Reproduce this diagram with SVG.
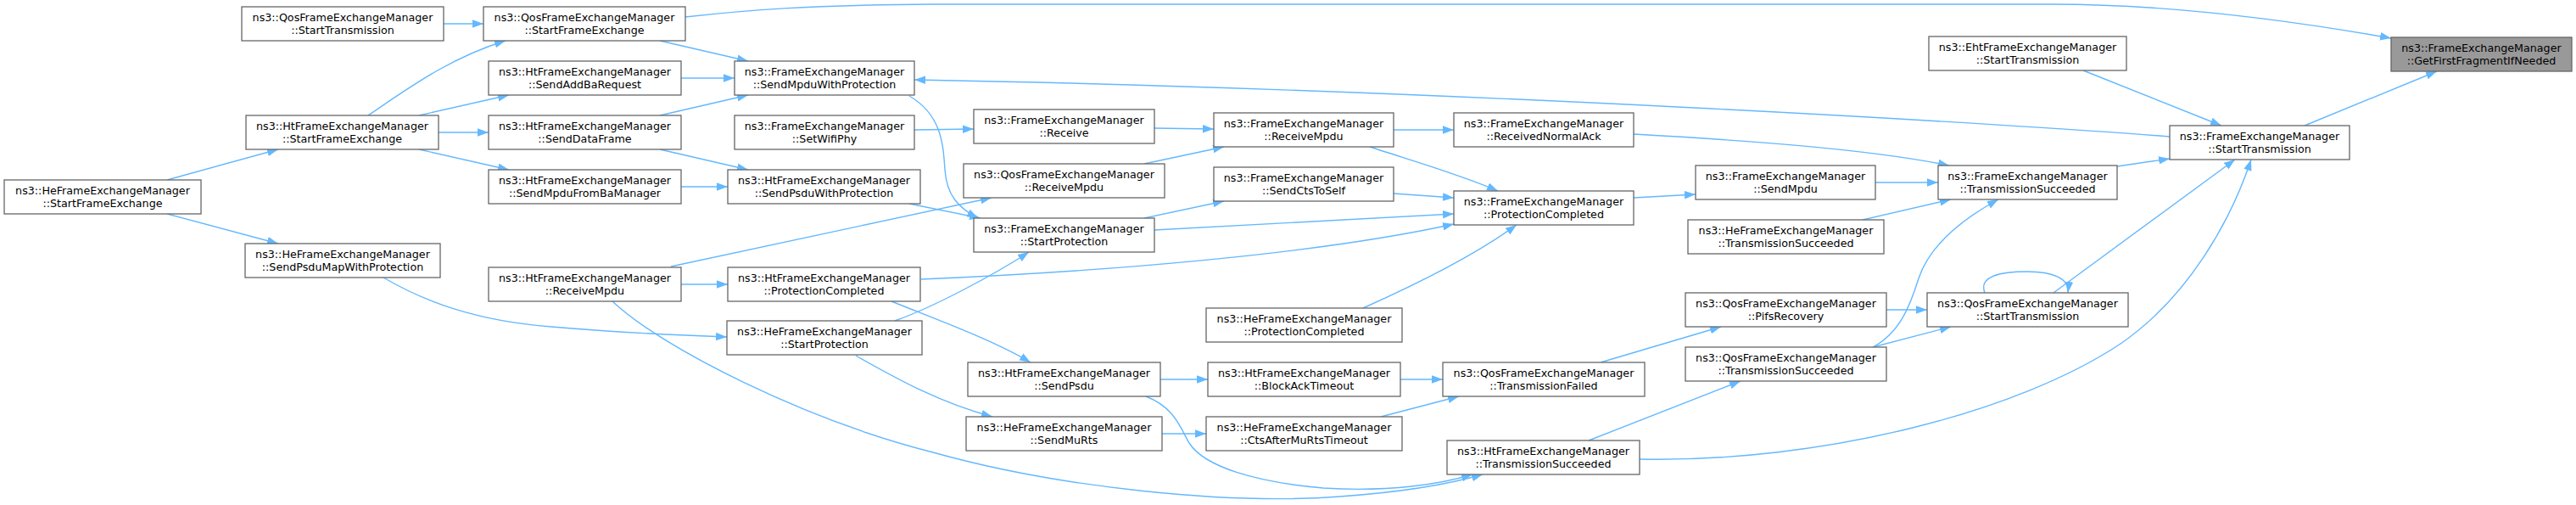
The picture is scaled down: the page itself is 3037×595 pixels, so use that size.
<svg xmlns="http://www.w3.org/2000/svg" width="3037" height="595" viewBox="0 0 3037 595">
<style>
.n rect{fill:#ffffff;stroke:#666666;stroke-width:1.3}
.n.hl rect{fill:#999999}
.n text{font-family:"DejaVu Sans","Liberation Sans",sans-serif;font-size:12.7px;fill:#000000;text-anchor:middle}
.e path{fill:none;stroke:#63b8ff;stroke-width:1.4;marker-end:url(#ah)}
</style>
<defs>
<marker id="ah" markerUnits="userSpaceOnUse" markerWidth="14" markerHeight="10" refX="13" refY="4.75" orient="auto">
<path d="M0,0 L13,4.75 L0,9.5 z" fill="#63b8ff" stroke="none"/>
</marker>
</defs>
<rect x="0" y="0" width="3037" height="595" fill="#ffffff"/>
<g id="edges" class="e">
<path d="M523,28 L570,28"/>
<path d="M808,20 C880,12 950,6 1100,5 L2420,5 C2560,5 2700,24 2819,45"/>
<path d="M778,48 L882,72"/>
<path d="M803,92 L866,92"/>
<path d="M778,136 L882,112"/>
<path d="M778,176 L882,200"/>
<path d="M803,220 L858,220"/>
<path d="M434,136 C480,105 530,68 596,48"/>
<path d="M494,136 L600,112"/>
<path d="M517,156 L576,156"/>
<path d="M494,176 L600,200"/>
<path d="M197,212 L328,176"/>
<path d="M197,252 L328,287"/>
<path d="M1072,113 C1110,135 1112,170 1114,200 C1116,230 1130,245 1153,257"/>
<path d="M1072,240 L1156,257"/>
<path d="M791,314 L1169,233"/>
<path d="M803,335 L858,335"/>
<path d="M722,355 C780,410 950,495 1100,533 C1250,575 1450,595 1580,585 C1650,580 1710,570 1748,559"/>
<path d="M1055,378 C1100,362 1170,325 1213,297"/>
<path d="M1009,419 C1060,448 1110,475 1170,491"/>
<path d="M1051,355 C1100,375 1170,400 1215,427"/>
<path d="M1086,329 C1300,320 1550,300 1714,264"/>
<path d="M452,327 C500,355 560,378 650,385 C720,391 800,395 857,397"/>
<path d="M1361,151 L1431,152"/>
<path d="M1078,153 L1148,152"/>
<path d="M1349,193 L1443,173"/>
<path d="M1349,257 L1443,237"/>
<path d="M1361,271 L1714,252"/>
<path d="M1643,153 L1714,153"/>
<path d="M1615,173 C1660,188 1720,205 1766,225"/>
<path d="M1643,228 L1714,233"/>
<path d="M1607,363 C1670,335 1740,300 1788,265"/>
<path d="M1926,233 L1999,229"/>
<path d="M1926,158 C2050,165 2200,175 2298,195"/>
<path d="M2211,215 L2285,215"/>
<path d="M2196,259 L2300,235"/>
<path d="M2208,409 C2240,392 2252,360 2262,328 C2275,290 2310,260 2356,235"/>
<path d="M2208,409 L2300,385"/>
<path d="M2224,365 L2272,365"/>
<path d="M2340,345 C2332,325 2360,320 2390,320 C2420,320 2440,328 2438,345"/>
<path d="M2421,345 L2635,188"/>
<path d="M2496,196 L2558,187"/>
<path d="M2456,83 L2619,148"/>
<path d="M2717,148 L2873,84"/>
<path d="M2558,161 C2400,148 1700,105 1078,94"/>
<path d="M1933,541 C2150,545 2380,485 2500,405 C2580,350 2630,260 2654,188"/>
<path d="M1351,467 C1385,480 1392,505 1402,522 C1420,550 1480,568 1560,575 C1640,580 1700,570 1736,559"/>
<path d="M1887,427 L2029,385"/>
<path d="M1651,447 L1701,447"/>
<path d="M1628,491 L1720,467"/>
<path d="M1368,447 L1424,447"/>
<path d="M1370,511 L1422,511"/>
<path d="M1873,519 L2052,449"/>
</g>
<g id="n1" class="n hl"><rect x="2819" y="44" width="213" height="40"/><text x="2925.5" y="61">ns3::FrameExchangeManager</text><text x="2925.5" y="75.5">::GetFirstFragmentIfNeeded</text></g>
<g id="n2" class="n"><rect x="2558" y="148" width="212" height="40"/><text x="2664" y="165">ns3::FrameExchangeManager</text><text x="2664" y="179.5">::StartTransmission</text></g>
<g id="n3" class="n"><rect x="2274" y="43" width="233" height="40"/><text x="2390.5" y="60">ns3::EhtFrameExchangeManager</text><text x="2390.5" y="74.5">::StartTransmission</text></g>
<g id="n4" class="n"><rect x="2285" y="195" width="211" height="40"/><text x="2390.5" y="212">ns3::FrameExchangeManager</text><text x="2390.5" y="226.5">::TransmissionSucceeded</text></g>
<g id="n5" class="n"><rect x="2272" y="345" width="237" height="40"/><text x="2390.5" y="362">ns3::QosFrameExchangeManager</text><text x="2390.5" y="376.5">::StartTransmission</text></g>
<g id="n6" class="n"><rect x="570" y="8" width="238" height="40"/><text x="689" y="25">ns3::QosFrameExchangeManager</text><text x="689" y="39.5">::StartFrameExchange</text></g>
<g id="n7" class="n"><rect x="866" y="72" width="212" height="40"/><text x="972" y="89">ns3::FrameExchangeManager</text><text x="972" y="103.5">::SendMpduWithProtection</text></g>
<g id="n8" class="n"><rect x="285" y="8" width="238" height="40"/><text x="404" y="25">ns3::QosFrameExchangeManager</text><text x="404" y="39.5">::StartTransmission</text></g>
<g id="n9" class="n"><rect x="290" y="136" width="227" height="40"/><text x="403.5" y="153">ns3::HtFrameExchangeManager</text><text x="403.5" y="167.5">::StartFrameExchange</text></g>
<g id="n10" class="n"><rect x="5" y="212" width="232" height="40"/><text x="121" y="229">ns3::HeFrameExchangeManager</text><text x="121" y="243.5">::StartFrameExchange</text></g>
<g id="n11" class="n"><rect x="576" y="72" width="227" height="40"/><text x="689.5" y="89">ns3::HtFrameExchangeManager</text><text x="689.5" y="103.5">::SendAddBaRequest</text></g>
<g id="n12" class="n"><rect x="576" y="136" width="227" height="40"/><text x="689.5" y="153">ns3::HtFrameExchangeManager</text><text x="689.5" y="167.5">::SendDataFrame</text></g>
<g id="n13" class="n"><rect x="576" y="200" width="227" height="40"/><text x="689.5" y="217">ns3::HtFrameExchangeManager</text><text x="689.5" y="231.5">::SendMpduFromBaManager</text></g>
<g id="n14" class="n"><rect x="866" y="136" width="212" height="40"/><text x="972" y="153">ns3::FrameExchangeManager</text><text x="972" y="167.5">::SetWifiPhy</text></g>
<g id="n15" class="n"><rect x="858" y="200" width="227" height="40"/><text x="971.5" y="217">ns3::HtFrameExchangeManager</text><text x="971.5" y="231.5">::SendPsduWithProtection</text></g>
<g id="n16" class="n"><rect x="289" y="287" width="230" height="40"/><text x="404" y="304">ns3::HeFrameExchangeManager</text><text x="404" y="318.5">::SendPsduMapWithProtection</text></g>
<g id="n17" class="n"><rect x="576" y="315" width="227" height="40"/><text x="689.5" y="332">ns3::HtFrameExchangeManager</text><text x="689.5" y="346.5">::ReceiveMpdu</text></g>
<g id="n18" class="n"><rect x="858" y="315" width="227" height="40"/><text x="971.5" y="332">ns3::HtFrameExchangeManager</text><text x="971.5" y="346.5">::ProtectionCompleted</text></g>
<g id="n19" class="n"><rect x="857" y="378" width="230" height="40"/><text x="972" y="395">ns3::HeFrameExchangeManager</text><text x="972" y="409.5">::StartProtection</text></g>
<g id="n20" class="n"><rect x="1148" y="129" width="213" height="40"/><text x="1254.5" y="146">ns3::FrameExchangeManager</text><text x="1254.5" y="160.5">::Receive</text></g>
<g id="n21" class="n"><rect x="1136" y="193" width="237" height="40"/><text x="1254.5" y="210">ns3::QosFrameExchangeManager</text><text x="1254.5" y="224.5">::ReceiveMpdu</text></g>
<g id="n22" class="n"><rect x="1148" y="257" width="213" height="40"/><text x="1254.5" y="274">ns3::FrameExchangeManager</text><text x="1254.5" y="288.5">::StartProtection</text></g>
<g id="n23" class="n"><rect x="1141" y="427" width="227" height="40"/><text x="1254.5" y="444">ns3::HtFrameExchangeManager</text><text x="1254.5" y="458.5">::SendPsdu</text></g>
<g id="n24" class="n"><rect x="1139" y="491" width="231" height="40"/><text x="1254.5" y="508">ns3::HeFrameExchangeManager</text><text x="1254.5" y="522.5">::SendMuRts</text></g>
<g id="n25" class="n"><rect x="1431" y="133" width="212" height="40"/><text x="1537" y="150">ns3::FrameExchangeManager</text><text x="1537" y="164.5">::ReceiveMpdu</text></g>
<g id="n26" class="n"><rect x="1431" y="197" width="212" height="40"/><text x="1537" y="214">ns3::FrameExchangeManager</text><text x="1537" y="228.5">::SendCtsToSelf</text></g>
<g id="n27" class="n"><rect x="1422" y="363" width="231" height="40"/><text x="1537.5" y="380">ns3::HeFrameExchangeManager</text><text x="1537.5" y="394.5">::ProtectionCompleted</text></g>
<g id="n28" class="n"><rect x="1424" y="427" width="227" height="40"/><text x="1537.5" y="444">ns3::HtFrameExchangeManager</text><text x="1537.5" y="458.5">::BlockAckTimeout</text></g>
<g id="n29" class="n"><rect x="1422" y="491" width="231" height="40"/><text x="1537.5" y="508">ns3::HeFrameExchangeManager</text><text x="1537.5" y="522.5">::CtsAfterMuRtsTimeout</text></g>
<g id="n30" class="n"><rect x="1714" y="133" width="212" height="40"/><text x="1820" y="150">ns3::FrameExchangeManager</text><text x="1820" y="164.5">::ReceivedNormalAck</text></g>
<g id="n31" class="n"><rect x="1714" y="225" width="212" height="40"/><text x="1820" y="242">ns3::FrameExchangeManager</text><text x="1820" y="256.5">::ProtectionCompleted</text></g>
<g id="n32" class="n"><rect x="1701" y="427" width="238" height="40"/><text x="1820" y="444">ns3::QosFrameExchangeManager</text><text x="1820" y="458.5">::TransmissionFailed</text></g>
<g id="n33" class="n"><rect x="1706" y="519" width="227" height="40"/><text x="1819.5" y="536">ns3::HtFrameExchangeManager</text><text x="1819.5" y="550.5">::TransmissionSucceeded</text></g>
<g id="n34" class="n"><rect x="1999" y="195" width="212" height="40"/><text x="2105" y="212">ns3::FrameExchangeManager</text><text x="2105" y="226.5">::SendMpdu</text></g>
<g id="n35" class="n"><rect x="1990" y="259" width="231" height="40"/><text x="2105.5" y="276">ns3::HeFrameExchangeManager</text><text x="2105.5" y="290.5">::TransmissionSucceeded</text></g>
<g id="n36" class="n"><rect x="1987" y="345" width="237" height="40"/><text x="2105.5" y="362">ns3::QosFrameExchangeManager</text><text x="2105.5" y="376.5">::PifsRecovery</text></g>
<g id="n37" class="n"><rect x="1987" y="409" width="237" height="40"/><text x="2105.5" y="426">ns3::QosFrameExchangeManager</text><text x="2105.5" y="440.5">::TransmissionSucceeded</text></g>
</svg>
